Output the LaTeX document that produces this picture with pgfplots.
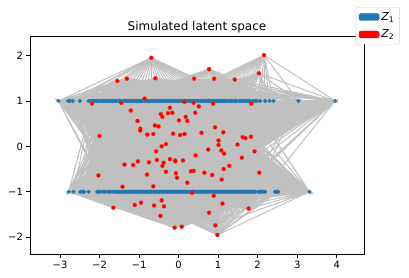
\documentclass[border=0pt]{standalone}
\usepackage{fontspec}
\setmainfont{DejaVu Sans}
\usepackage{pgfplots}
\pgfplotsset{compat=1.18}
\definecolor{tabblue}{HTML}{1F77B4}
\definecolor{silver}{HTML}{C0C0C0}
\definecolor{taborange}{HTML}{FF7F0E}
\definecolor{legendgray}{HTML}{CCCCCC}
% red points Z2: x / y / reach of edges
\def\redpts{-0.69/1.95/2.6, 2.16/2.01/2.6, 0.77/1.70/2.6, 2.03/1.61/2.6, -1.55/1.44/9, -1.31/1.49/9, -0.59/1.50/9, 0.39/1.49/9, 0.90/1.49/9, 1.42/1.47/9, -0.86/1.05/9, -2.19/0.94/9, -1.45/0.96/9, 0.15/0.98/9, 0.38/0.96/9, 0.87/0.94/9, 1.84/0.94/9, -0.22/0.85/9, 0.51/0.88/9, -1.21/0.79/9, -0.45/0.71/9, -0.41/0.65/9, -0.27/0.73/9, -0.16/0.74/9, 0.42/0.74/9, 0.18/0.65/9, 0.01/0.57/9, 0.22/0.56/9, -1.04/0.56/9, -0.97/0.39/9, -0.97/0.35/9, -0.60/0.46/9, -0.51/0.44/9, 0.92/0.42/9, 1.13/0.31/9, -2.00/0.23/9, -0.79/0.26/9, -0.64/0.27/9, -0.14/0.28/9, 0.04/0.25/9, 0.15/0.27/9, 0.58/0.30/9, 1.62/0.20/9, 1.69/0.18/9, 1.83/0.21/9, 1.01/0.13/9, -0.32/0.05/9, -0.43/0.00/9, -0.57/-0.11/9, 1.01/0.03/9, 1.49/0.04/9, 1.08/-0.09/9, 1.15/-0.16/9, 0.75/-0.07/9, 0.43/-0.20/9, 1.92/-0.11/9, -0.55/-0.30/9, -0.22/-0.28/9, -0.09/-0.31/9, -0.08/-0.33/9, 0.11/-0.31/9, -0.38/-0.36/9, -1.37/-0.40/9, -1.15/-0.41/9, -1.03/-0.33/9, -0.75/-0.35/9, -0.41/-0.43/9, -0.32/-0.56/9, 0.65/-0.58/9, 1.28/-0.43/9, 1.60/-0.25/9, 0.38/-0.54/9, 0.31/-0.55/9, -2.03/-0.64/9, -0.80/-0.62/9, -0.07/-0.59/9, -0.04/-0.69/9, 0.85/-0.63/9, 1.14/-0.50/9, 2.04/-0.58/9, 1.09/-0.73/9, 0.22/-0.80/9, -1.42/-0.89/9, -0.64/-0.88/9, 0.34/-1.02/9, 0.89/-1.09/9, -1.65/-1.35/3.3, -1.11/-1.29/9, -0.95/-1.24/9, -0.62/-1.30/9, -0.43/-1.19/9, -0.37/-1.32/9, -0.46/-1.53/3.3, 0.77/-1.46/3.3, 1.11/-1.26/9, 1.77/-1.37/3.3, -0.10/-1.79/3.3, 0.08/-1.77/3.3, 0.93/-1.74/3.3, 0.98/-1.95/2.6}
% Z1 points used as edge hubs (subset of the blue points)
\def\hubs{-3.04/1, -2.75/1, -2.68/1, -2.50/1, -2.23/1, -2.07/1, -1.93/1, -1.77/1, -1.61/1, -1.45/1, -1.30/1, -1.14/1, -0.98/1, -0.83/1, -0.67/1, -0.52/1, -0.36/1, -0.21/1, -0.04/1, 0.11/1, 0.28/1, 0.43/1, 0.59/1, 0.75/1, 0.91/1, 1.07/1, 1.22/1, 1.40/1, 1.54/1, 1.67/1, 1.81/1, 2.06/1, 2.19/1, 2.30/1, 2.40/1, 3.03/1, 3.96/1, -2.78/-1, -2.66/-1, -2.49/-1, -2.43/-1, -2.28/-1, -2.06/-1, -1.97/-1, -1.86/-1, -1.68/-1, -1.54/-1, -1.39/-1, -1.23/-1, -1.07/-1, -0.91/-1, -0.76/-1, -0.60/-1, -0.44/-1, -0.28/-1, -0.13/-1, 0.03/-1, 0.19/-1, 0.35/-1, 0.50/-1, 0.66/-1, 0.82/-1, 0.98/-1, 1.13/-1, 1.29/-1, 1.45/-1, 1.61/-1, 1.77/-1, 1.94/-1, 2.06/-1, 2.19/-1, 2.44/-1, 2.52/-1, 3.31/-1}
\begin{document}
\begin{tikzpicture}
\gdef\redcoords{}
\foreach \rx/\ry/\rr in \redpts {\xdef\redcoords{\redcoords(\rx,\ry)}}
\begin{axis}[
  scale only axis, width=334pt, height=218pt,
  xmin=-3.76, xmax=4.69, ymin=-2.37, ymax=2.43,
  axis line style={line width=0.8pt},
  tick align=outside, tick pos=left,
  major tick length=3.5pt,
  every tick/.style={black, line width=0.8pt},
  xtick={-3,-2,-1,0,1,2,3,4},
  xticklabels={−3,−2,−1,0,1,2,3,4},
  ytick={-2,-1,0,1,2},
  yticklabels={−2,−1,0,1,2},
  tick label style={font=\fontsize{10}{12}\selectfont},
  title={Simulated latent space},
  title style={font=\fontsize{12}{14}\selectfont, yshift=-7pt},
  legend style={at={(0.975,1.133)}, anchor=north west, draw=legendgray,
    rounded corners=2pt, font=\fontsize{11}{13}\selectfont, row sep=4pt,
    inner xsep=3pt, inner ysep=3pt},
  legend cell align=left,
]
\foreach \hx/\hy in \hubs {
  \gdef\ec{}
  \foreach \rx/\ry/\rr in \redpts {
    \pgfmathparse{((\rx)-(\hx))*((\rx)-(\hx))+((\ry)-(\hy))*((\ry)-(\hy))<(\rr)*(\rr)}
    \ifdim\pgfmathresult pt>0.5pt
      \xdef\ec{\ec(\hx,\hy)(\rx,\ry)}
    \fi
  }
  \edef\temp{\noexpand\addplot[draw=silver, line width=1pt, forget plot, no markers] coordinates {\ec(\hx,\hy)};}
  \temp
}
\addplot[only marks, mark=*, mark size=1.9pt, color=tabblue, forget plot] coordinates {
(-3.04,1)(-2.79,1)(-2.75,1)(-2.68,1)(-2.50,1)(-2.28,1)(-2.23,1)(-2.19,1)(-2.15,1)(-2.12,1)(-2.07,1)(-2.03,1)(-1.98,1)(-1.93,1)(-1.90,1)(-1.86,1)(-1.81,1)(-1.77,1)(-1.72,1)(-1.68,1)(-1.64,1)(-1.61,1)(-1.57,1)(-1.52,1)(-1.49,1)(-1.45,1)(-1.40,1)(-1.36,1)(-1.33,1)(-1.30,1)(-1.26,1)(-1.21,1)(-1.18,1)(-1.14,1)(-1.10,1)(-1.06,1)(-1.03,1)(-0.98,1)(-0.95,1)(-0.91,1)(-0.87,1)(-0.83,1)(-0.79,1)(-0.75,1)(-0.71,1)(-0.67,1)(-0.64,1)(-0.60,1)(-0.56,1)(-0.52,1)(-0.48,1)(-0.44,1)(-0.40,1)(-0.36,1)(-0.33,1)(-0.29,1)(-0.25,1)(-0.21,1)(-0.17,1)(-0.13,1)(-0.09,1)(-0.04,1)(-0.01,1)(0.03,1)(0.07,1)(0.11,1)(0.15,1)(0.19,1)(0.23,1)(0.28,1)(0.31,1)(0.35,1)(0.39,1)(0.43,1)(0.47,1)(0.51,1)(0.55,1)(0.59,1)(0.63,1)(0.67,1)(0.71,1)(0.75,1)(0.79,1)(0.82,1)(0.86,1)(0.91,1)(0.95,1)(0.99,1)(1.03,1)(1.07,1)(1.11,1)(1.15,1)(1.19,1)(1.22,1)(1.27,1)(1.31,1)(1.35,1)(1.40,1)(1.44,1)(1.48,1)(1.54,1)(1.58,1)(1.63,1)(1.67,1)(1.72,1)(1.76,1)(1.81,1)(1.88,1)(1.94,1)(1.98,1)(2.06,1)(2.19,1)(2.30,1)(2.40,1)(3.03,1)(3.96,1)
(-2.78,-1)(-2.66,-1)(-2.49,-1)(-2.43,-1)(-2.39,-1)(-2.28,-1)(-2.06,-1)(-2.02,-1)(-1.97,-1)(-1.90,-1)(-1.86,-1)(-1.79,-1)(-1.74,-1)(-1.68,-1)(-1.62,-1)(-1.58,-1)(-1.54,-1)(-1.50,-1)(-1.46,-1)(-1.42,-1)(-1.39,-1)(-1.35,-1)(-1.31,-1)(-1.27,-1)(-1.23,-1)(-1.19,-1)(-1.15,-1)(-1.11,-1)(-1.07,-1)(-1.03,-1)(-0.99,-1)(-0.95,-1)(-0.91,-1)(-0.87,-1)(-0.83,-1)(-0.80,-1)(-0.76,-1)(-0.72,-1)(-0.68,-1)(-0.64,-1)(-0.60,-1)(-0.56,-1)(-0.52,-1)(-0.48,-1)(-0.44,-1)(-0.40,-1)(-0.36,-1)(-0.32,-1)(-0.28,-1)(-0.24,-1)(-0.20,-1)(-0.16,-1)(-0.13,-1)(-0.09,-1)(-0.05,-1)(-0.01,-1)(0.03,-1)(0.07,-1)(0.11,-1)(0.15,-1)(0.19,-1)(0.23,-1)(0.27,-1)(0.31,-1)(0.35,-1)(0.38,-1)(0.42,-1)(0.46,-1)(0.50,-1)(0.54,-1)(0.58,-1)(0.62,-1)(0.66,-1)(0.70,-1)(0.74,-1)(0.78,-1)(0.82,-1)(0.86,-1)(0.90,-1)(0.94,-1)(0.98,-1)(1.02,-1)(1.06,-1)(1.10,-1)(1.13,-1)(1.17,-1)(1.21,-1)(1.25,-1)(1.29,-1)(1.33,-1)(1.37,-1)(1.41,-1)(1.45,-1)(1.49,-1)(1.53,-1)(1.57,-1)(1.61,-1)(1.65,-1)(1.69,-1)(1.73,-1)(1.77,-1)(1.81,-1)(1.86,-1)(1.90,-1)(1.94,-1)(2.01,-1)(2.06,-1)(2.10,-1)(2.15,-1)(2.19,-1)(2.44,-1)(2.48,-1)(2.52,-1)(3.31,-1)
};
\edef\temp{\noexpand\addplot[only marks, mark=*, mark size=2pt, mark options={fill=red, draw=red!60!taborange, line width=0.3pt}, forget plot] coordinates {\redcoords};}
\temp
\addlegendimage{legend image code/.code={\fill[tabblue] (0pt,-3.5pt) rectangle (20pt,3.5pt);}}
\addlegendentry{\textit{Z}\textsubscript{1}}
\addlegendimage{legend image code/.code={\fill[red] (0pt,-3.5pt) rectangle (20pt,3.5pt);}}
\addlegendentry{\textit{Z}\textsubscript{2}}
\end{axis}
\pgfresetboundingbox
\path (current axis.south west) ++(-30pt,-24pt) rectangle ([xshift=45pt,yshift=36pt]current axis.north east);
\end{tikzpicture}
\end{document}
